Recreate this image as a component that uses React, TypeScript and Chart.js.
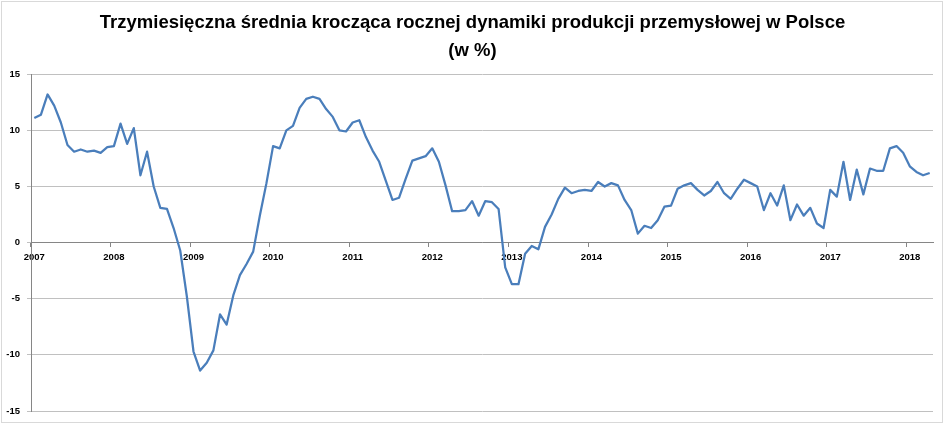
import { useEffect, useRef } from 'react';
import { Chart, registerables, type ChartConfiguration } from 'chart.js';

Chart.register(...registerables);

const titleLines = [
    'Trzymiesięczna średnia krocząca rocznej dynamiki produkcji przemysłowej w Polsce',
    '(w %)',
];

const years = ['2007', '2008', '2009', '2010', '2011', '2012', '2013', '2014', '2015', '2016', '2017', '2018'];

// 3-month moving average of y/y industrial production, %
const v2007 = [11.1, 11.4, 13.2, 12.2, 10.7, 8.7, 8.1, 8.3, 8.1, 8.2, 8.0, 8.5];
const v2008 = [8.6, 10.6, 8.8, 10.2, 6.0, 8.1, 5.0, 3.1, 3.0, 1.3, -0.7, -4.8];
const v2009 = [-9.7, -11.4, -10.7, -9.6, -6.4, -7.3, -4.7, -2.9, -1.9, -0.8, 2.4, 5.3];
const v2010 = [8.6, 8.4, 10.0, 10.4, 12.0, 12.8, 13.0, 12.8, 11.9, 11.2, 10.0, 9.9];
const v2011 = [10.7, 10.9, 9.4, 8.2, 7.2, 5.5, 3.8, 4.0, 5.7, 7.3, 7.5, 7.7];
const v2012 = [8.4, 7.2, 5.1, 2.8, 2.8, 2.9, 3.7, 2.4, 3.7, 3.6, 3.0, -2.2];
const v2013 = [-3.7, -3.7, -1.0, -0.3, -0.6, 1.4, 2.5, 3.9, 4.9, 4.4, 4.6, 4.7];
const v2014 = [4.6, 5.4, 5.0, 5.3, 5.1, 3.8, 2.9, 0.8, 1.5, 1.3, 2.0, 3.2];
const v2015 = [3.3, 4.8, 5.1, 5.3, 4.7, 4.2, 4.6, 5.4, 4.4, 3.9, 4.8, 5.6];
const v2016 = [5.3, 5.0, 2.9, 4.4, 3.3, 5.1, 2.0, 3.4, 2.4, 3.1, 1.7, 1.3];
const v2017 = [4.7, 4.1, 7.2, 3.8, 6.5, 4.3, 6.6, 6.4, 6.4, 8.4, 8.6, 8.0];
const v2018 = [6.8, 6.3, 6.0, 6.2];

const values = [
    ...v2007, ...v2008, ...v2009, ...v2010, ...v2011, ...v2012,
    ...v2013, ...v2014, ...v2015, ...v2016, ...v2017, ...v2018,
];

const categories = values.map(
    (_, i) => `${years[Math.floor(i / 12)]}-${String((i % 12) + 1).padStart(2, '0')}`
);

const FONT = '"Liberation Sans", Arial, sans-serif';

export default function App() {
    const canvasRef = useRef<HTMLCanvasElement>(null);
    const chartRef = useRef<Chart | null>(null);

    useEffect(() => {
        if (!canvasRef.current) return;

        if (chartRef.current) {
            chartRef.current.destroy();
        }

        const config: ChartConfiguration<'line'> = {
            type: 'line',
            data: {
                labels: categories,
                datasets: [
                    {
                        data: values,
                        borderColor: '#4a7ebb',
                        borderWidth: 2.25,
                        pointRadius: 0,
                        tension: 0,
                        borderJoinStyle: 'round',
                        fill: false,
                    },
                ],
            },
            options: {
                responsive: false,
                animation: false,
                // equal side padding keeps the title centred on the whole frame
                layout: { padding: { left: 6, right: 6, top: 0, bottom: 13 } },
                plugins: {
                    legend: { display: false },
                    tooltip: { enabled: false },
                    title: {
                        display: true,
                        text: titleLines,
                        color: '#000',
                        font: { family: FONT, size: 18.5, weight: 'bold', lineHeight: 1.52 },
                        padding: { top: 9, bottom: 9 },
                    },
                },
                scales: {
                    x: {
                        type: 'category',
                        offset: true,
                        position: { y: 0 },
                        afterFit: (s) => {
                            s.height = 0;
                        },
                        grid: {
                            offset: true,
                            drawOnChartArea: false,
                            drawTicks: true,
                            tickLength: 4,
                            color: (ctx) =>
                                ctx.index !== undefined && ctx.index % 12 === 0
                                    ? '#868686'
                                    : 'rgba(0,0,0,0)',
                        },
                        border: { display: true, color: '#868686', width: 1 },
                        ticks: {
                            autoSkip: false,
                            maxRotation: 0,
                            padding: 5,
                            color: '#000',
                            font: { family: FONT, size: 9.5, weight: 'bold' },
                            callback: (_v, i) => (i % 12 === 0 ? years[i / 12] : ''),
                        },
                    },
                    y: {
                        min: -15,
                        max: 15,
                        afterFit: (s) => {
                            s.width = 25;
                        },
                        ticks: {
                            stepSize: 5,
                            padding: 7,
                            color: '#000',
                            font: { family: FONT, size: 9.5, weight: 'bold' },
                        },
                        grid: { color: '#c0c0c0', lineWidth: 1, tickLength: 4 },
                        border: { color: '#868686' },
                    },
                    // empty spacer on the right so the plot ends where the reference does
                    spacer: {
                        type: 'linear',
                        position: 'right',
                        afterFit: (s) => {
                            s.width = 6;
                        },
                        grid: { display: false },
                        ticks: { display: false },
                        border: { display: false },
                    },
                },
            },
        };

        chartRef.current = new Chart(canvasRef.current, config);

        return () => {
            if (chartRef.current) {
                chartRef.current.destroy();
                chartRef.current = null;
            }
        };
    }, []);

    return (
        <div style={{ position: 'absolute', left: 0, top: 0, width: 945, height: 424, background: '#fff' }}>
            <div
                style={{
                    position: 'absolute',
                    left: 1,
                    top: 1,
                    width: 942,
                    height: 422,
                    boxSizing: 'border-box',
                    border: '1px solid #d9d9d9',
                }}
            />
            <canvas
                ref={canvasRef}
                width={945}
                height={424}
                style={{ position: 'absolute', left: 0, top: 0 }}
            />
        </div>
    );
}
